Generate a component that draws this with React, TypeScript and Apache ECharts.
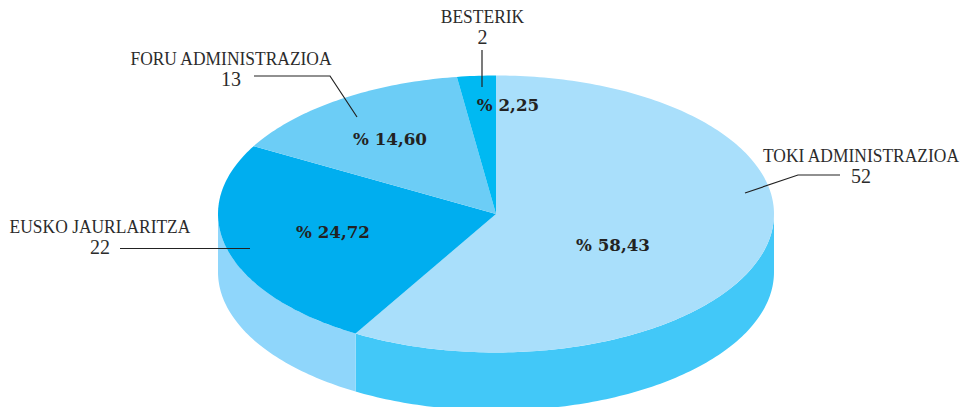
import React, { useEffect, useRef } from "react";
import * as echarts from "echarts";

const categories = ["TOKI ADMINISTRAZIOA", "EUSKO JAURLARITZA", "FORU ADMINISTRAZIOA", "BESTERIK"];
const counts = [52, 22, 13, 2];
const percentLabels = ["% 58,43", "% 24,72", "% 14,60", "% 2,25"];
const topColors = ["#A9DFFB", "#00AEEF", "#6CCDF6", "#00B9F2"];
const sideColors = ["#42C8F8", "#8FD6FB", "#8FD6FB", "#8FD6FB"];

const W = 963;
const H = 407;
const CX = 496;
const CY = 214;
const RX = 278;
const RY = 138.5;
const DEPTH = 58;
const INK = "#2b2b2b";
const LABEL_FONT = "'Liberation Serif', serif";
const BOLD_FONT = "'DejaVu Serif', serif";

const labelCenters = [
  [861, 156],
  [100, 227],
  [231, 59],
  [482.5, 17],
];
const pctCenters = [
  [613, 245],
  [333, 232],
  [390, 139],
  [508, 105],
];
const leaders = [
  [[745, 193], [798, 175], [840, 175]],
  [[120, 248.5], [250, 248.5]],
  [[254, 76], [330, 76], [357, 117]],
  [[482, 50], [482, 87]],
];

const total = counts.reduce((a, b) => a + b, 0);
const point = (deg: number, dy = 0) => {
  const r = (deg * Math.PI) / 180;
  return [CX + RX * Math.sin(r), CY + dy - RY * Math.cos(r)];
};
const range = (i: number) => {
  const before = counts.slice(0, i).reduce((a, b) => a + b, 0);
  return [(before / total) * 360, ((before + counts[i]) / total) * 360];
};
const arc = (a: number, b: number, dy = 0) => {
  const pts: number[][] = [];
  const n = Math.max(2, Math.ceil(Math.abs(b - a)));
  for (let k = 0; k <= n; k++) pts.push(point(a + ((b - a) * k) / n, dy));
  return pts;
};

const renderWall = (_: any, api: any) => {
  const i = api.value(1);
  const [a0, a1] = range(i);
  // only the front half of the disc (90 to 270 degrees) shows its wall
  const a = Math.max(a0, 90);
  const b = Math.min(a1, 270);
  if (b <= a) return { type: "group", children: [] };
  return {
    type: "polygon",
    shape: { points: [...arc(a, b, 0), ...arc(b, a, DEPTH)] },
    style: { fill: sideColors[i] },
  };
};

const renderTop = (_: any, api: any) => {
  const i = api.value(1);
  const [a0, a1] = range(i);
  return {
    type: "polygon",
    shape: { points: [[CX, CY], ...arc(a0, a1)] },
    style: { fill: topColors[i] },
  };
};

export default function App() {
  const ref = useRef<HTMLDivElement>(null);
  useEffect(() => {
    const chart = echarts.init(ref.current!, null, { renderer: "svg" });
    const data = counts.map((v, i) => [v, i]);
    const textEl = (x: number, y: number, text: string, size: number, scaleX: number) => ({
      type: "text",
      x,
      y,
      z: 20,
      scaleX,
      style: {
        text,
        fill: INK,
        font: `${size}px ${LABEL_FONT}`,
        align: "center",
        verticalAlign: "middle",
      },
    });
    const elements: any[] = [];
    categories.forEach((c, i) => {
      const [x, y] = labelCenters[i];
      elements.push(textEl(x, y, c, 19.5, 0.895));
      elements.push(textEl(x, y + 19.5, String(counts[i]), 20, 1));
      elements.push({
        type: "polyline",
        z: 20,
        shape: { points: leaders[i] },
        style: { stroke: "#222", lineWidth: 1.2, fill: "none" },
      });
      elements.push({
        type: "text",
        x: pctCenters[i][0],
        y: pctCenters[i][1],
        z: 20,
        style: {
          text: percentLabels[i],
          fill: "#222",
          font: `bold 16.7px ${BOLD_FONT}`,
          align: "center",
          verticalAlign: "middle",
        },
      });
    });
    chart.setOption({
      animation: false,
      backgroundColor: "#fff",
      graphic: { elements },
      series: [
        { type: "custom", coordinateSystem: "none", data, renderItem: renderWall, silent: true, z: 1 },
        { type: "custom", coordinateSystem: "none", data, renderItem: renderTop, silent: true, z: 2 },
      ],
    });
    return () => chart.dispose();
  }, []);
  return <div ref={ref} style={{ position: "fixed", left: 0, top: 0, width: W, height: H }} />;
}
